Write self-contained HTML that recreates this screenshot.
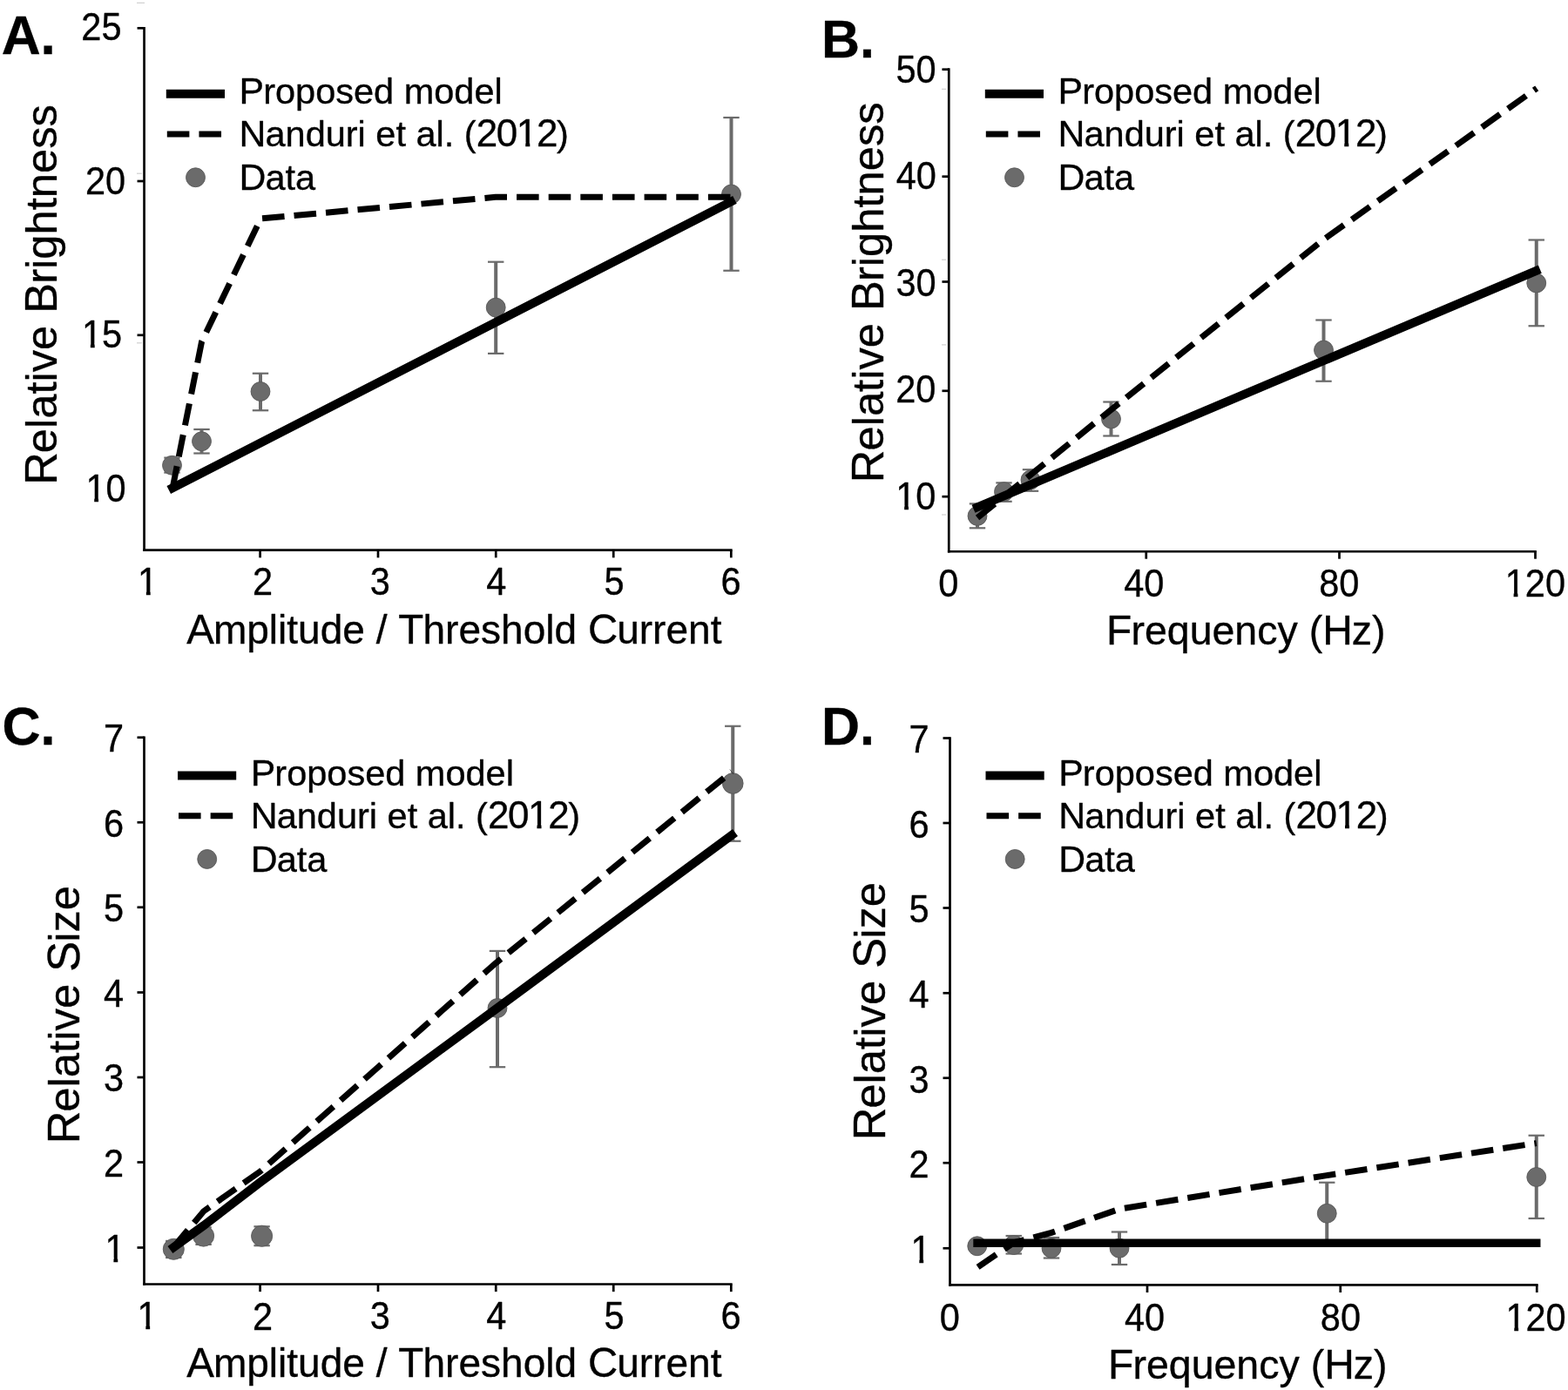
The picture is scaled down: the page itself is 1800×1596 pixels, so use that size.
<!DOCTYPE html>
<html lang="en">
<head>
<meta charset="utf-8">
<title>Relative brightness and size versus amplitude and frequency</title>
<style>
html,body{margin:0;padding:0;background:#fff;}
body{width:1800px;height:1596px;overflow:hidden;}
svg{display:block;}
svg text{font-family:"Liberation Sans", Arial, Helvetica, sans-serif;fill:#000;stroke:#000;stroke-width:0.35px;stroke-linejoin:round;}
</style>
</head>
<body>
<svg width="1800" height="1596" viewBox="0 0 1800 1596">
<rect width="1800" height="1596" fill="#fff"/>
<defs>
<clipPath id="k0"><path clip-rule="evenodd" d="M-50,-80H951.5V40H-50ZM320.5,-4.84H328.8V2.08H320.5ZM333.81,-4.84H341.62V2.08H333.81Z"/></clipPath>
<clipPath id="k1"><path clip-rule="evenodd" d="M-50,-80H163V40H-50ZM2.08,-4.57H9.87V2.08H2.08ZM14.66,-4.57H22V2.08H14.66Z"/></clipPath>
<clipPath id="k2"><path clip-rule="evenodd" d="M-50,-80H163V40H-50ZM2.08,-4.57H9.87V2.08H2.08ZM14.66,-4.57H22V2.08H14.66Z"/></clipPath>
<clipPath id="k3"><path clip-rule="evenodd" d="M-50,-80H121.5V40H-50ZM2.08,-4.57H9.87V2.08H2.08ZM14.66,-4.57H22V2.08H14.66Z"/></clipPath>
<clipPath id="k4"><path clip-rule="evenodd" d="M-50,-80H951.5V40H-50ZM320.5,-4.84H328.8V2.08H320.5ZM333.81,-4.84H341.62V2.08H333.81Z"/></clipPath>
<clipPath id="k5"><path clip-rule="evenodd" d="M-50,-80H163V40H-50ZM2.08,-4.57H9.87V2.08H2.08ZM14.66,-4.57H22V2.08H14.66Z"/></clipPath>
<clipPath id="k6"><path clip-rule="evenodd" d="M-50,-80H204.5V40H-50ZM2.08,-4.57H9.87V2.08H2.08ZM14.66,-4.57H22V2.08H14.66Z"/></clipPath>
<clipPath id="k7"><path clip-rule="evenodd" d="M-50,-80H951.5V40H-50ZM320.5,-4.84H328.8V2.08H320.5ZM333.81,-4.84H341.62V2.08H333.81Z"/></clipPath>
<clipPath id="k8"><path clip-rule="evenodd" d="M-50,-80H121.5V40H-50ZM2.08,-4.57H9.87V2.08H2.08ZM14.66,-4.57H22V2.08H14.66Z"/></clipPath>
<clipPath id="k9"><path clip-rule="evenodd" d="M-50,-80H121.5V40H-50ZM2.08,-4.57H9.87V2.08H2.08ZM14.66,-4.57H22V2.08H14.66Z"/></clipPath>
<clipPath id="k10"><path clip-rule="evenodd" d="M-50,-80H951.5V40H-50ZM320.5,-4.84H328.8V2.08H320.5ZM333.81,-4.84H341.62V2.08H333.81Z"/></clipPath>
<clipPath id="k11"><path clip-rule="evenodd" d="M-50,-80H121.5V40H-50ZM2.08,-4.57H9.87V2.08H2.08ZM14.66,-4.57H22V2.08H14.66Z"/></clipPath>
<clipPath id="k12"><path clip-rule="evenodd" d="M-50,-80H204.5V40H-50ZM2.08,-4.57H9.87V2.08H2.08ZM14.66,-4.57H22V2.08H14.66Z"/></clipPath>
</defs>
<line x1="165.55" y1="30.95" x2="165.55" y2="633.05" stroke="#000" stroke-width="2.7"/>
<line x1="164.2" y1="631.7" x2="840.65" y2="631.7" stroke="#000" stroke-width="2.7"/>
<line x1="157.55" y1="32.3" x2="165.55" y2="32.3" stroke="#000" stroke-width="2.7"/>
<line x1="157.55" y1="208" x2="165.55" y2="208" stroke="#000" stroke-width="2.7"/>
<line x1="157.55" y1="384.8" x2="165.55" y2="384.8" stroke="#000" stroke-width="2.7"/>
<line x1="298.6" y1="631.7" x2="298.6" y2="640.35" stroke="#000" stroke-width="2.7"/>
<line x1="434" y1="631.7" x2="434" y2="640.35" stroke="#000" stroke-width="2.7"/>
<line x1="569.25" y1="631.7" x2="569.25" y2="640.35" stroke="#000" stroke-width="2.7"/>
<line x1="704.25" y1="631.7" x2="704.25" y2="640.35" stroke="#000" stroke-width="2.7"/>
<line x1="839.3" y1="631.7" x2="839.3" y2="640.35" stroke="#000" stroke-width="2.7"/>
<line x1="157" y1="3.3" x2="166" y2="3.3" stroke="#cfcfcf" stroke-width="1.2"/>
<line x1="157" y1="199.2" x2="163" y2="199.2" stroke="#cfcfcf" stroke-width="1.2"/>
<line x1="157" y1="393.8" x2="163" y2="393.8" stroke="#cfcfcf" stroke-width="1.2"/>
<line x1="197.5" y1="525.6" x2="197.5" y2="542.6" stroke="#6b6b6b" stroke-width="4"/>
<line x1="188.3" y1="525.6" x2="206.7" y2="525.6" stroke="#6b6b6b" stroke-width="2.2"/>
<line x1="188.3" y1="542.6" x2="206.7" y2="542.6" stroke="#6b6b6b" stroke-width="2.2"/>
<circle cx="197.5" cy="534.3" r="10.95" fill="#6b6b6b" stroke="#595959" stroke-width="0.9"/>
<line x1="231.5" y1="493" x2="231.5" y2="520.5" stroke="#6b6b6b" stroke-width="4"/>
<line x1="222.3" y1="493" x2="240.7" y2="493" stroke="#6b6b6b" stroke-width="2.2"/>
<line x1="222.3" y1="520.5" x2="240.7" y2="520.5" stroke="#6b6b6b" stroke-width="2.2"/>
<circle cx="231.5" cy="506.75" r="10.95" fill="#6b6b6b" stroke="#595959" stroke-width="0.9"/>
<line x1="299" y1="428.75" x2="299" y2="471.25" stroke="#6b6b6b" stroke-width="4"/>
<line x1="289.8" y1="428.75" x2="308.2" y2="428.75" stroke="#6b6b6b" stroke-width="2.2"/>
<line x1="289.8" y1="471.25" x2="308.2" y2="471.25" stroke="#6b6b6b" stroke-width="2.2"/>
<circle cx="299" cy="449.5" r="10.95" fill="#6b6b6b" stroke="#595959" stroke-width="0.9"/>
<line x1="569.2" y1="300.7" x2="569.2" y2="405.9" stroke="#6b6b6b" stroke-width="4"/>
<line x1="560" y1="300.7" x2="578.4" y2="300.7" stroke="#6b6b6b" stroke-width="2.2"/>
<line x1="560" y1="405.9" x2="578.4" y2="405.9" stroke="#6b6b6b" stroke-width="2.2"/>
<circle cx="569.2" cy="353.1" r="10.95" fill="#6b6b6b" stroke="#595959" stroke-width="0.9"/>
<line x1="839.5" y1="135" x2="839.5" y2="310.75" stroke="#6b6b6b" stroke-width="4"/>
<line x1="830.3" y1="135" x2="848.7" y2="135" stroke="#6b6b6b" stroke-width="2.2"/>
<line x1="830.3" y1="310.75" x2="848.7" y2="310.75" stroke="#6b6b6b" stroke-width="2.2"/>
<circle cx="839.5" cy="223" r="10.95" fill="#6b6b6b" stroke="#595959" stroke-width="0.9"/>
<polyline points="198,561 231.5,392.5 299.3,251 568.8,226.3 839.5,226.3" fill="none" stroke="#000" stroke-width="7" stroke-linejoin="miter" stroke-dasharray="25.58 11.06" stroke-dashoffset="-0.7"/>
<polyline points="198.2,560.2 839,231.7" fill="none" stroke="#000" stroke-width="10" stroke-linecap="square"/>
<line x1="190.8" y1="107.8" x2="258" y2="107.8" stroke="#000" stroke-width="10"/>
<polyline points="191.8,154.1 254.8,154.1" fill="none" stroke="#000" stroke-width="7" stroke-linejoin="miter" stroke-dasharray="25.58 11.06" stroke-dashoffset="0"/>
<circle cx="224.5" cy="203.75" r="10.95" fill="#6b6b6b" stroke="#595959" stroke-width="0.9"/>
<text transform="translate(274.48 118.9) scale(1.0000 1.0000)" font-size="41.5"><tspan font-size="42.75" letter-spacing="-0.83">P</tspan>roposed model</text>
<text transform="translate(274.48 168.1) scale(1.0000 1.0000)" font-size="41.5" clip-path="url(#k0)"><tspan font-size="42.75" letter-spacing="-0.9">N</tspan>anduri et al. (<tspan font-size="43.99" letter-spacing="-1.38">2012</tspan>)</text>
<text transform="translate(274.48 217.8) scale(1.0000 1.0000)" font-size="41.5"><tspan font-size="42.75" letter-spacing="-0.9">D</tspan>ata</text>
<text transform="translate(1.64 62) scale(1.0200 1.0300)" font-size="61" font-weight="bold">A.</text>
<text transform="translate(93.36 45.63) scale(1.0000 1.0500)" font-size="41.5">25</text>
<text transform="translate(98.01 222.73) scale(1.0000 1.0500)" font-size="41.5">20</text>
<text transform="translate(94 399.37) scale(1.0000 1.0500)" font-size="41.5" clip-path="url(#k1)">15</text>
<text transform="translate(98.39 576.33) scale(1.0000 1.0500)" font-size="41.5" clip-path="url(#k2)">10</text>
<text transform="translate(290.08 683.45) scale(1.0000 1.0500)" font-size="41.5">2</text>
<text transform="translate(424.79 683.23) scale(1.0000 1.0500)" font-size="41.5">3</text>
<text transform="translate(558.19 683.23) scale(1.0000 1.0500)" font-size="41.5">4</text>
<text transform="translate(693.48 683.02) scale(1.0000 1.0500)" font-size="41.5">5</text>
<text transform="translate(827.38 683.23) scale(1.0000 1.0500)" font-size="41.5">6</text>
<text transform="translate(157.99 683.23) scale(1.0000 1.0500)" font-size="41.5" clip-path="url(#k3)">1</text>
<text transform="translate(214.17 738.7) scale(1.0000 1.0000)" font-size="46.05"><tspan font-size="47.43" letter-spacing="-0.92">A</tspan>mplitude / <tspan font-size="47.43" letter-spacing="-0.84">T</tspan>hreshold <tspan font-size="47.43" letter-spacing="-1">C</tspan>urrent</text>
<text transform="translate(64.7 556.86) rotate(-90) scale(1.0000 1.0000)" font-size="50.7"><tspan font-size="52.22" letter-spacing="-1.1">R</tspan>elative <tspan font-size="52.22" letter-spacing="-1.01">B</tspan>rightness</text>
<line x1="1089.25" y1="78.35" x2="1089.25" y2="634.6" stroke="#000" stroke-width="2.7"/>
<line x1="1087.9" y1="633.25" x2="1763.85" y2="633.25" stroke="#000" stroke-width="2.7"/>
<line x1="1081.45" y1="79.7" x2="1089.25" y2="79.7" stroke="#000" stroke-width="2.7"/>
<line x1="1081.45" y1="202.7" x2="1089.25" y2="202.7" stroke="#000" stroke-width="2.7"/>
<line x1="1081.45" y1="323.5" x2="1089.25" y2="323.5" stroke="#000" stroke-width="2.7"/>
<line x1="1081.45" y1="448.8" x2="1089.25" y2="448.8" stroke="#000" stroke-width="2.7"/>
<line x1="1081.45" y1="570.2" x2="1089.25" y2="570.2" stroke="#000" stroke-width="2.7"/>
<line x1="1315.75" y1="633.25" x2="1315.75" y2="641.7" stroke="#000" stroke-width="2.7"/>
<line x1="1537.5" y1="633.25" x2="1537.5" y2="641.7" stroke="#000" stroke-width="2.7"/>
<line x1="1762.5" y1="633.25" x2="1762.5" y2="641.7" stroke="#000" stroke-width="2.7"/>
<line x1="1081" y1="102.3" x2="1086" y2="102.3" stroke="#cfcfcf" stroke-width="1.2"/>
<line x1="1081" y1="298.2" x2="1086" y2="298.2" stroke="#cfcfcf" stroke-width="1.2"/>
<line x1="1081" y1="395.9" x2="1086" y2="395.9" stroke="#cfcfcf" stroke-width="1.2"/>
<line x1="1081" y1="591" x2="1086" y2="591" stroke="#cfcfcf" stroke-width="1.2"/>
<line x1="1122" y1="578.4" x2="1122" y2="606.3" stroke="#6b6b6b" stroke-width="4"/>
<line x1="1112.8" y1="578.4" x2="1131.2" y2="578.4" stroke="#6b6b6b" stroke-width="2.2"/>
<line x1="1112.8" y1="606.3" x2="1131.2" y2="606.3" stroke="#6b6b6b" stroke-width="2.2"/>
<circle cx="1122" cy="592.4" r="10.95" fill="#6b6b6b" stroke="#595959" stroke-width="0.9"/>
<line x1="1152.5" y1="554.4" x2="1152.5" y2="575.8" stroke="#6b6b6b" stroke-width="4"/>
<line x1="1143.3" y1="554.4" x2="1161.7" y2="554.4" stroke="#6b6b6b" stroke-width="2.2"/>
<line x1="1143.3" y1="575.8" x2="1161.7" y2="575.8" stroke="#6b6b6b" stroke-width="2.2"/>
<circle cx="1152.5" cy="564.6" r="10.95" fill="#6b6b6b" stroke="#595959" stroke-width="0.9"/>
<line x1="1183" y1="539.2" x2="1183" y2="563.8" stroke="#6b6b6b" stroke-width="4"/>
<line x1="1173.8" y1="539.2" x2="1192.2" y2="539.2" stroke="#6b6b6b" stroke-width="2.2"/>
<line x1="1173.8" y1="563.8" x2="1192.2" y2="563.8" stroke="#6b6b6b" stroke-width="2.2"/>
<circle cx="1183" cy="551" r="10.95" fill="#6b6b6b" stroke="#595959" stroke-width="0.9"/>
<line x1="1275.5" y1="461.5" x2="1275.5" y2="500.5" stroke="#6b6b6b" stroke-width="4"/>
<line x1="1266.3" y1="461.5" x2="1284.7" y2="461.5" stroke="#6b6b6b" stroke-width="2.2"/>
<line x1="1266.3" y1="500.5" x2="1284.7" y2="500.5" stroke="#6b6b6b" stroke-width="2.2"/>
<circle cx="1275.5" cy="481" r="10.95" fill="#6b6b6b" stroke="#595959" stroke-width="0.9"/>
<line x1="1519.5" y1="367.5" x2="1519.5" y2="437.75" stroke="#6b6b6b" stroke-width="4"/>
<line x1="1510.3" y1="367.5" x2="1528.7" y2="367.5" stroke="#6b6b6b" stroke-width="2.2"/>
<line x1="1510.3" y1="437.75" x2="1528.7" y2="437.75" stroke="#6b6b6b" stroke-width="2.2"/>
<circle cx="1519.5" cy="402" r="10.95" fill="#6b6b6b" stroke="#595959" stroke-width="0.9"/>
<line x1="1763.75" y1="275.5" x2="1763.75" y2="374.25" stroke="#6b6b6b" stroke-width="4"/>
<line x1="1754.55" y1="275.5" x2="1772.95" y2="275.5" stroke="#6b6b6b" stroke-width="2.2"/>
<line x1="1754.55" y1="374.25" x2="1772.95" y2="374.25" stroke="#6b6b6b" stroke-width="2.2"/>
<circle cx="1763.75" cy="325" r="10.95" fill="#6b6b6b" stroke="#595959" stroke-width="0.9"/>
<polyline points="1121.5,595 1275.5,470.5 1519.5,275 1764.2,101.3" fill="none" stroke="#000" stroke-width="7" stroke-linejoin="miter" stroke-dasharray="25.58 11.06" stroke-dashoffset="-0.7"/>
<polyline points="1122.1,582.3 1763.2,311" fill="none" stroke="#000" stroke-width="10" stroke-linecap="square"/>
<line x1="1130.8" y1="107.8" x2="1198" y2="107.8" stroke="#000" stroke-width="10"/>
<polyline points="1131.8,154.1 1194.8,154.1" fill="none" stroke="#000" stroke-width="7" stroke-linejoin="miter" stroke-dasharray="25.58 11.06" stroke-dashoffset="0"/>
<circle cx="1164.5" cy="203.75" r="10.95" fill="#6b6b6b" stroke="#595959" stroke-width="0.9"/>
<text transform="translate(1214.48 118.9) scale(1.0000 1.0000)" font-size="41.5"><tspan font-size="42.75" letter-spacing="-0.83">P</tspan>roposed model</text>
<text transform="translate(1214.48 168.1) scale(1.0000 1.0000)" font-size="41.5" clip-path="url(#k4)"><tspan font-size="42.75" letter-spacing="-0.9">N</tspan>anduri et al. (<tspan font-size="43.99" letter-spacing="-1.38">2012</tspan>)</text>
<text transform="translate(1214.48 217.8) scale(1.0000 1.0000)" font-size="41.5"><tspan font-size="42.75" letter-spacing="-0.9">D</tspan>ata</text>
<text transform="translate(943.03 66.25) scale(1.0000 1.0150)" font-size="61" font-weight="bold">B.</text>
<text transform="translate(1028.46 94.83) scale(1.0000 1.0500)" font-size="41.5">50</text>
<text transform="translate(1028.77 217.33) scale(1.0000 1.0500)" font-size="41.5">40</text>
<text transform="translate(1028.46 339.83) scale(1.0000 1.0500)" font-size="41.5">30</text>
<text transform="translate(1028.26 462.33) scale(1.0000 1.0500)" font-size="41.5">20</text>
<text transform="translate(1028.29 584.73) scale(1.0000 1.0500)" font-size="41.5" clip-path="url(#k5)">10</text>
<text transform="translate(1077.23 685.03) scale(1.0000 1.0500)" font-size="41.5">0</text>
<text transform="translate(1290.17 685.03) scale(1.0000 1.0500)" font-size="41.5">40</text>
<text transform="translate(1514.26 685.03) scale(1.0000 1.0500)" font-size="41.5">80</text>
<text transform="translate(1727.76 685.03) scale(1.0000 1.0500)" font-size="41.5" clip-path="url(#k6)">120</text>
<text transform="translate(1270.03 740.2) scale(1.0000 1.0000)" font-size="46.5"><tspan font-size="47.9" letter-spacing="-0.85">F</tspan>requency (<tspan font-size="47.9" letter-spacing="-1.01">H</tspan>z)</text>
<text transform="translate(1014.1 554.16) rotate(-90) scale(1.0000 1.0000)" font-size="50.7"><tspan font-size="52.22" letter-spacing="-1.1">R</tspan>elative <tspan font-size="52.22" letter-spacing="-1.01">B</tspan>rightness</text>
<line x1="165.5" y1="845.4" x2="165.5" y2="1475.85" stroke="#000" stroke-width="2.7"/>
<line x1="164.15" y1="1474.5" x2="840.65" y2="1474.5" stroke="#000" stroke-width="2.7"/>
<line x1="157.5" y1="846.75" x2="165.5" y2="846.75" stroke="#000" stroke-width="2.7"/>
<line x1="157.5" y1="944.25" x2="165.5" y2="944.25" stroke="#000" stroke-width="2.7"/>
<line x1="157.5" y1="1041.75" x2="165.5" y2="1041.75" stroke="#000" stroke-width="2.7"/>
<line x1="157.5" y1="1139.5" x2="165.5" y2="1139.5" stroke="#000" stroke-width="2.7"/>
<line x1="157.5" y1="1237" x2="165.5" y2="1237" stroke="#000" stroke-width="2.7"/>
<line x1="157.5" y1="1334.5" x2="165.5" y2="1334.5" stroke="#000" stroke-width="2.7"/>
<line x1="157.5" y1="1432.5" x2="165.5" y2="1432.5" stroke="#000" stroke-width="2.7"/>
<line x1="298.6" y1="1474.5" x2="298.6" y2="1483.15" stroke="#000" stroke-width="2.7"/>
<line x1="434" y1="1474.5" x2="434" y2="1483.15" stroke="#000" stroke-width="2.7"/>
<line x1="569.25" y1="1474.5" x2="569.25" y2="1483.15" stroke="#000" stroke-width="2.7"/>
<line x1="704.25" y1="1474.5" x2="704.25" y2="1483.15" stroke="#000" stroke-width="2.7"/>
<line x1="839.3" y1="1474.5" x2="839.3" y2="1483.15" stroke="#000" stroke-width="2.7"/>
<line x1="199.3" y1="1424.9" x2="199.3" y2="1444" stroke="#6b6b6b" stroke-width="4"/>
<line x1="190.1" y1="1424.9" x2="208.5" y2="1424.9" stroke="#6b6b6b" stroke-width="2.2"/>
<line x1="190.1" y1="1444" x2="208.5" y2="1444" stroke="#6b6b6b" stroke-width="2.2"/>
<circle cx="199.3" cy="1434.3" r="12.05" fill="#6b6b6b" stroke="#595959" stroke-width="0.9"/>
<line x1="233.6" y1="1409.3" x2="233.6" y2="1428.9" stroke="#6b6b6b" stroke-width="4"/>
<line x1="224.4" y1="1409.3" x2="242.8" y2="1409.3" stroke="#6b6b6b" stroke-width="2.2"/>
<line x1="224.4" y1="1428.9" x2="242.8" y2="1428.9" stroke="#6b6b6b" stroke-width="2.2"/>
<circle cx="233.6" cy="1419.1" r="12.05" fill="#6b6b6b" stroke="#595959" stroke-width="0.9"/>
<line x1="300.6" y1="1408.3" x2="300.6" y2="1430.2" stroke="#6b6b6b" stroke-width="4"/>
<line x1="291.4" y1="1408.3" x2="309.8" y2="1408.3" stroke="#6b6b6b" stroke-width="2.2"/>
<line x1="291.4" y1="1430.2" x2="309.8" y2="1430.2" stroke="#6b6b6b" stroke-width="2.2"/>
<circle cx="300.6" cy="1419.2" r="12.05" fill="#6b6b6b" stroke="#595959" stroke-width="0.9"/>
<line x1="571" y1="1091.9" x2="571" y2="1225.2" stroke="#6b6b6b" stroke-width="4"/>
<line x1="561.8" y1="1091.9" x2="580.2" y2="1091.9" stroke="#6b6b6b" stroke-width="2.2"/>
<line x1="561.8" y1="1225.2" x2="580.2" y2="1225.2" stroke="#6b6b6b" stroke-width="2.2"/>
<circle cx="571" cy="1157.5" r="10.95" fill="#6b6b6b" stroke="#595959" stroke-width="0.9"/>
<line x1="841.25" y1="833.75" x2="841.25" y2="965.75" stroke="#6b6b6b" stroke-width="4"/>
<line x1="832.05" y1="833.75" x2="850.45" y2="833.75" stroke="#6b6b6b" stroke-width="2.2"/>
<line x1="832.05" y1="965.75" x2="850.45" y2="965.75" stroke="#6b6b6b" stroke-width="2.2"/>
<circle cx="841.25" cy="899.5" r="11.85" fill="#6b6b6b" stroke="#595959" stroke-width="0.9"/>
<polyline points="198.75,1432.5 233.8,1390.75 298.75,1345 569,1106 840,886" fill="none" stroke="#000" stroke-width="7" stroke-linejoin="miter" stroke-dasharray="25.58 11.06" stroke-dashoffset="-0.7"/>
<polyline points="199.5,1432 233.5,1407.4 299.6,1356.8 569.25,1158.6 840,959" fill="none" stroke="#000" stroke-width="10" stroke-linecap="square"/>
<line x1="204" y1="890.5" x2="271.2" y2="890.5" stroke="#000" stroke-width="10"/>
<polyline points="205,936.8 268,936.8" fill="none" stroke="#000" stroke-width="7" stroke-linejoin="miter" stroke-dasharray="25.58 11.06" stroke-dashoffset="0"/>
<circle cx="237.7" cy="986.45" r="10.95" fill="#6b6b6b" stroke="#595959" stroke-width="0.9"/>
<text transform="translate(287.68 901.6) scale(1.0000 1.0000)" font-size="41.5"><tspan font-size="42.75" letter-spacing="-0.83">P</tspan>roposed model</text>
<text transform="translate(287.68 950.8) scale(1.0000 1.0000)" font-size="41.5" clip-path="url(#k7)"><tspan font-size="42.75" letter-spacing="-0.9">N</tspan>anduri et al. (<tspan font-size="43.99" letter-spacing="-1.38">2012</tspan>)</text>
<text transform="translate(287.68 1000.5) scale(1.0000 1.0000)" font-size="41.5"><tspan font-size="42.75" letter-spacing="-0.9">D</tspan>ata</text>
<text transform="translate(2.56 854.7) scale(1.0000 1.0150)" font-size="61" font-weight="bold">C.</text>
<text transform="translate(118.98 863.08) scale(1.0000 1.0500)" font-size="41.5">7</text>
<text transform="translate(118.88 960.58) scale(1.0000 1.0500)" font-size="41.5">6</text>
<text transform="translate(118.98 1057.87) scale(1.0000 1.0500)" font-size="41.5">5</text>
<text transform="translate(119.09 1155.83) scale(1.0000 1.0500)" font-size="41.5">4</text>
<text transform="translate(119.09 1253.33) scale(1.0000 1.0500)" font-size="41.5">3</text>
<text transform="translate(118.98 1351.05) scale(1.0000 1.0500)" font-size="41.5">2</text>
<text transform="translate(120.59 1448.83) scale(1.0000 1.0500)" font-size="41.5" clip-path="url(#k8)">1</text>
<text transform="translate(290.08 1526.55) scale(1.0000 1.0500)" font-size="41.5">2</text>
<text transform="translate(424.79 1526.33) scale(1.0000 1.0500)" font-size="41.5">3</text>
<text transform="translate(558.19 1526.33) scale(1.0000 1.0500)" font-size="41.5">4</text>
<text transform="translate(693.48 1526.12) scale(1.0000 1.0500)" font-size="41.5">5</text>
<text transform="translate(827.38 1526.33) scale(1.0000 1.0500)" font-size="41.5">6</text>
<text transform="translate(157.49 1526.33) scale(1.0000 1.0500)" font-size="41.5" clip-path="url(#k9)">1</text>
<text transform="translate(214.17 1581.3) scale(1.0000 1.0000)" font-size="46.05"><tspan font-size="47.43" letter-spacing="-0.92">A</tspan>mplitude / <tspan font-size="47.43" letter-spacing="-0.84">T</tspan>hreshold <tspan font-size="47.43" letter-spacing="-1">C</tspan>urrent</text>
<text transform="translate(91 1313.36) rotate(-90) scale(1.0000 1.0000)" font-size="50.8"><tspan font-size="52.32" letter-spacing="-1.1">R</tspan>elative <tspan font-size="52.32" letter-spacing="-1.02">S</tspan>ize</text>
<line x1="1090.5" y1="846.15" x2="1090.5" y2="1476.75" stroke="#000" stroke-width="2.7"/>
<line x1="1089.15" y1="1475.4" x2="1765.6" y2="1475.4" stroke="#000" stroke-width="2.7"/>
<line x1="1082.5" y1="847.5" x2="1090.5" y2="847.5" stroke="#000" stroke-width="2.7"/>
<line x1="1082.5" y1="945" x2="1090.5" y2="945" stroke="#000" stroke-width="2.7"/>
<line x1="1082.5" y1="1042.5" x2="1090.5" y2="1042.5" stroke="#000" stroke-width="2.7"/>
<line x1="1082.5" y1="1140.25" x2="1090.5" y2="1140.25" stroke="#000" stroke-width="2.7"/>
<line x1="1082.5" y1="1237.75" x2="1090.5" y2="1237.75" stroke="#000" stroke-width="2.7"/>
<line x1="1082.5" y1="1335.25" x2="1090.5" y2="1335.25" stroke="#000" stroke-width="2.7"/>
<line x1="1082.5" y1="1433.25" x2="1090.5" y2="1433.25" stroke="#000" stroke-width="2.7"/>
<line x1="1317" y1="1475.4" x2="1317" y2="1484.05" stroke="#000" stroke-width="2.7"/>
<line x1="1538.75" y1="1475.4" x2="1538.75" y2="1484.05" stroke="#000" stroke-width="2.7"/>
<line x1="1764.25" y1="1475.4" x2="1764.25" y2="1484.05" stroke="#000" stroke-width="2.7"/>
<circle cx="1121.75" cy="1430.75" r="10.95" fill="#6b6b6b" stroke="#595959" stroke-width="0.9"/>
<line x1="1163.75" y1="1419" x2="1163.75" y2="1439.5" stroke="#6b6b6b" stroke-width="4"/>
<line x1="1154.55" y1="1419" x2="1172.95" y2="1419" stroke="#6b6b6b" stroke-width="2.2"/>
<line x1="1154.55" y1="1439.5" x2="1172.95" y2="1439.5" stroke="#6b6b6b" stroke-width="2.2"/>
<circle cx="1163.75" cy="1429.5" r="10.95" fill="#6b6b6b" stroke="#595959" stroke-width="0.9"/>
<line x1="1207" y1="1421" x2="1207" y2="1444.5" stroke="#6b6b6b" stroke-width="4"/>
<line x1="1197.8" y1="1421" x2="1216.2" y2="1421" stroke="#6b6b6b" stroke-width="2.2"/>
<line x1="1197.8" y1="1444.5" x2="1216.2" y2="1444.5" stroke="#6b6b6b" stroke-width="2.2"/>
<circle cx="1207" cy="1433.25" r="10.95" fill="#6b6b6b" stroke="#595959" stroke-width="0.9"/>
<line x1="1285" y1="1414.5" x2="1285" y2="1452" stroke="#6b6b6b" stroke-width="4"/>
<line x1="1275.8" y1="1414.5" x2="1294.2" y2="1414.5" stroke="#6b6b6b" stroke-width="2.2"/>
<line x1="1275.8" y1="1452" x2="1294.2" y2="1452" stroke="#6b6b6b" stroke-width="2.2"/>
<circle cx="1285" cy="1433.25" r="10.95" fill="#6b6b6b" stroke="#595959" stroke-width="0.9"/>
<line x1="1523.25" y1="1357.75" x2="1523.25" y2="1428" stroke="#6b6b6b" stroke-width="4"/>
<line x1="1514.05" y1="1357.75" x2="1532.45" y2="1357.75" stroke="#6b6b6b" stroke-width="2.2"/>
<line x1="1514.05" y1="1428" x2="1532.45" y2="1428" stroke="#6b6b6b" stroke-width="2.2"/>
<circle cx="1523.25" cy="1393.25" r="10.95" fill="#6b6b6b" stroke="#595959" stroke-width="0.9"/>
<line x1="1763.75" y1="1303.75" x2="1763.75" y2="1399" stroke="#6b6b6b" stroke-width="4"/>
<line x1="1754.55" y1="1303.75" x2="1772.95" y2="1303.75" stroke="#6b6b6b" stroke-width="2.2"/>
<line x1="1754.55" y1="1399" x2="1772.95" y2="1399" stroke="#6b6b6b" stroke-width="2.2"/>
<circle cx="1763.75" cy="1351.5" r="10.95" fill="#6b6b6b" stroke="#595959" stroke-width="0.9"/>
<polyline points="1122,1455.3 1163.75,1426.8 1207,1415.4 1285,1388.2 1523,1349.6 1763.75,1312.6" fill="none" stroke="#000" stroke-width="7" stroke-linejoin="miter" stroke-dasharray="25.58 11.06" stroke-dashoffset="-0.7"/>
<polyline points="1122,1427.3 1763.75,1427.3" fill="none" stroke="#000" stroke-width="9.4" stroke-linecap="square"/>
<line x1="1131.5" y1="890.5" x2="1198.7" y2="890.5" stroke="#000" stroke-width="10"/>
<polyline points="1132.5,936.8 1195.5,936.8" fill="none" stroke="#000" stroke-width="7" stroke-linejoin="miter" stroke-dasharray="25.58 11.06" stroke-dashoffset="0"/>
<circle cx="1165.2" cy="986.45" r="10.95" fill="#6b6b6b" stroke="#595959" stroke-width="0.9"/>
<text transform="translate(1215.18 901.6) scale(1.0000 1.0000)" font-size="41.5"><tspan font-size="42.75" letter-spacing="-0.83">P</tspan>roposed model</text>
<text transform="translate(1215.18 950.8) scale(1.0000 1.0000)" font-size="41.5" clip-path="url(#k10)"><tspan font-size="42.75" letter-spacing="-0.9">N</tspan>anduri et al. (<tspan font-size="43.99" letter-spacing="-1.38">2012</tspan>)</text>
<text transform="translate(1215.18 1000.5) scale(1.0000 1.0000)" font-size="41.5"><tspan font-size="42.75" letter-spacing="-0.9">D</tspan>ata</text>
<text transform="translate(943.03 854.5) scale(1.0000 1.0150)" font-size="61" font-weight="bold">D.</text>
<text transform="translate(1043.48 864.33) scale(1.0000 1.0500)" font-size="41.5">7</text>
<text transform="translate(1043.38 961.83) scale(1.0000 1.0500)" font-size="41.5">6</text>
<text transform="translate(1043.48 1059.12) scale(1.0000 1.0500)" font-size="41.5">5</text>
<text transform="translate(1043.59 1157.08) scale(1.0000 1.0500)" font-size="41.5">4</text>
<text transform="translate(1043.59 1254.58) scale(1.0000 1.0500)" font-size="41.5">3</text>
<text transform="translate(1043.48 1352.3) scale(1.0000 1.0500)" font-size="41.5">2</text>
<text transform="translate(1045.49 1450.08) scale(1.0000 1.0500)" font-size="41.5" clip-path="url(#k11)">1</text>
<text transform="translate(1078.73 1528.03) scale(1.0000 1.0500)" font-size="41.5">0</text>
<text transform="translate(1290.92 1528.03) scale(1.0000 1.0500)" font-size="41.5">40</text>
<text transform="translate(1515.86 1528.03) scale(1.0000 1.0500)" font-size="41.5">80</text>
<text transform="translate(1728.45 1528.03) scale(1.0000 1.0500)" font-size="41.5" clip-path="url(#k12)">120</text>
<text transform="translate(1272.03 1582.7) scale(1.0000 1.0000)" font-size="46.5"><tspan font-size="47.9" letter-spacing="-0.85">F</tspan>requency (<tspan font-size="47.9" letter-spacing="-1.01">H</tspan>z)</text>
<text transform="translate(1015.5 1309.36) rotate(-90) scale(1.0000 1.0000)" font-size="50.8"><tspan font-size="52.32" letter-spacing="-1.1">R</tspan>elative <tspan font-size="52.32" letter-spacing="-1.02">S</tspan>ize</text>
</svg>
</body>
</html>
